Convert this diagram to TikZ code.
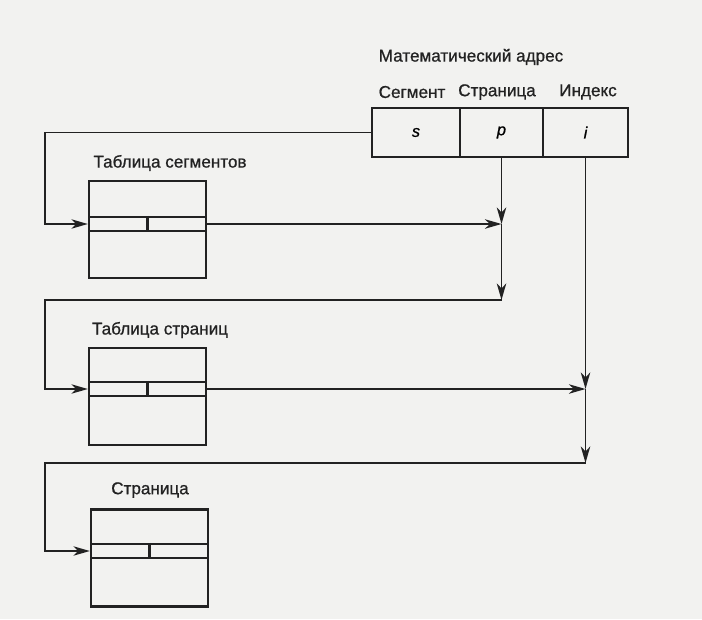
\documentclass[tikz,border=0pt]{standalone}
\usepackage{fontspec}
\setmainfont{Liberation Sans}
\newfontfamily\lblfont{Liberation Sans}[FakeBold=0.8]
\usetikzlibrary{arrows.meta,positioning,calc}
\definecolor{ink}{HTML}{222222}
\definecolor{paper}{HTML}{F2F2F0}
\tikzset{
  cell/.style={
    draw=ink, line width=2.3pt, minimum width=#1, minimum height=1.47cm,
    inner sep=0pt, font=\lblfont\fontsize{14}{16}\selectfont\itshape,
  },
  memtab/.style={
    draw=ink, line width=2.3pt, minimum width=3.51cm, minimum height=2.91cm,
    inner sep=0pt,
  },
  tabrow/.style={
    draw=ink, line width=2pt, minimum width=3.51cm, minimum height=0.42cm,
    inner sep=0pt,
  },
  boxline/.style={draw=ink, line width=2pt},
  arrow/.style={-{Stealth[length=14pt,width=8pt,inset=4pt]}, line width=1.5pt, color=ink},
  lbl/.style={font=\lblfont\fontsize{14.6}{17}\selectfont, color=ink},
}

\begin{document}
\begin{tikzpicture}[x=0.3mm, y=-0.3mm]

  \fill[paper] (0,0) rectangle (702,619);
  \useasboundingbox (0,0) rectangle (702,619);

  % mathematical address
  \node[lbl] (addr) at (471,57) {Математический адрес};
  \node[lbl] (seglbl) at (412,92) {Сегмент};
  \node[lbl] (pglbl) at (497,92) {Страница};
  \node[lbl] (idxlbl) at (588,92) {Индекс};

  \node[cell=2.64cm] (s) at (416,132.5) {s};
  \node[cell=2.49cm] (p) at (501.5,132.5) {p};
  \node[cell=2.55cm] (i) at (585.5,132.5) {i};

  % tables
  \node[memtab] (segtab) at (147.5,229.5) {};
  \node[tabrow] (segrow) at (147.5,224) {};
  \draw[boxline] (segrow.north) -- (segrow.south);
  \node[lbl] (segname) at (170,163) {Таблица сегментов};

  \node[memtab] (pagetab) at (147.5,396.5) {};
  \node[tabrow] (pagerow) at (147.5,389) {};
  \draw[boxline] (pagerow.north) -- (pagerow.south);
  \node[lbl] (pagename) at (160,330) {Таблица страниц};

  \node[memtab] (page) at (149.5,558) {};
  \node[tabrow] (pgrow) at (149.5,551) {};
  \draw[boxline] (pgrow.north) -- (pgrow.south);
  \node[lbl] (pgname) at (150,490) {Страница};

  \coordinate (bus) at (45,0);
  \coordinate (j1) at (p.south |- segrow.east);
  \coordinate (turn1) at ($(p.south |- 0,300)$);
  \coordinate (j2) at (i.south |- pagerow.east);
  \coordinate (turn2) at ($(i.south |- 0,463)$);

  \draw[arrow] (s.west) -| (bus |- segrow.west) -- (segrow.west);
  \draw[arrow] (segrow.east) -- (j1);
  \draw[arrow] (p.south) -- (j1);
  \draw[arrow] (j1) -- (turn1);
  \draw[arrow] (turn1) -| (bus |- pagerow.west) -- (pagerow.west);

  \draw[arrow] (pagerow.east) -- (j2);
  \draw[arrow] (i.south) -- (j2);
  \draw[arrow] (j2) -- (turn2);
  \draw[arrow] (turn2) -| (bus |- pgrow.west) -- (pgrow.west);

\end{tikzpicture}
\end{document}
